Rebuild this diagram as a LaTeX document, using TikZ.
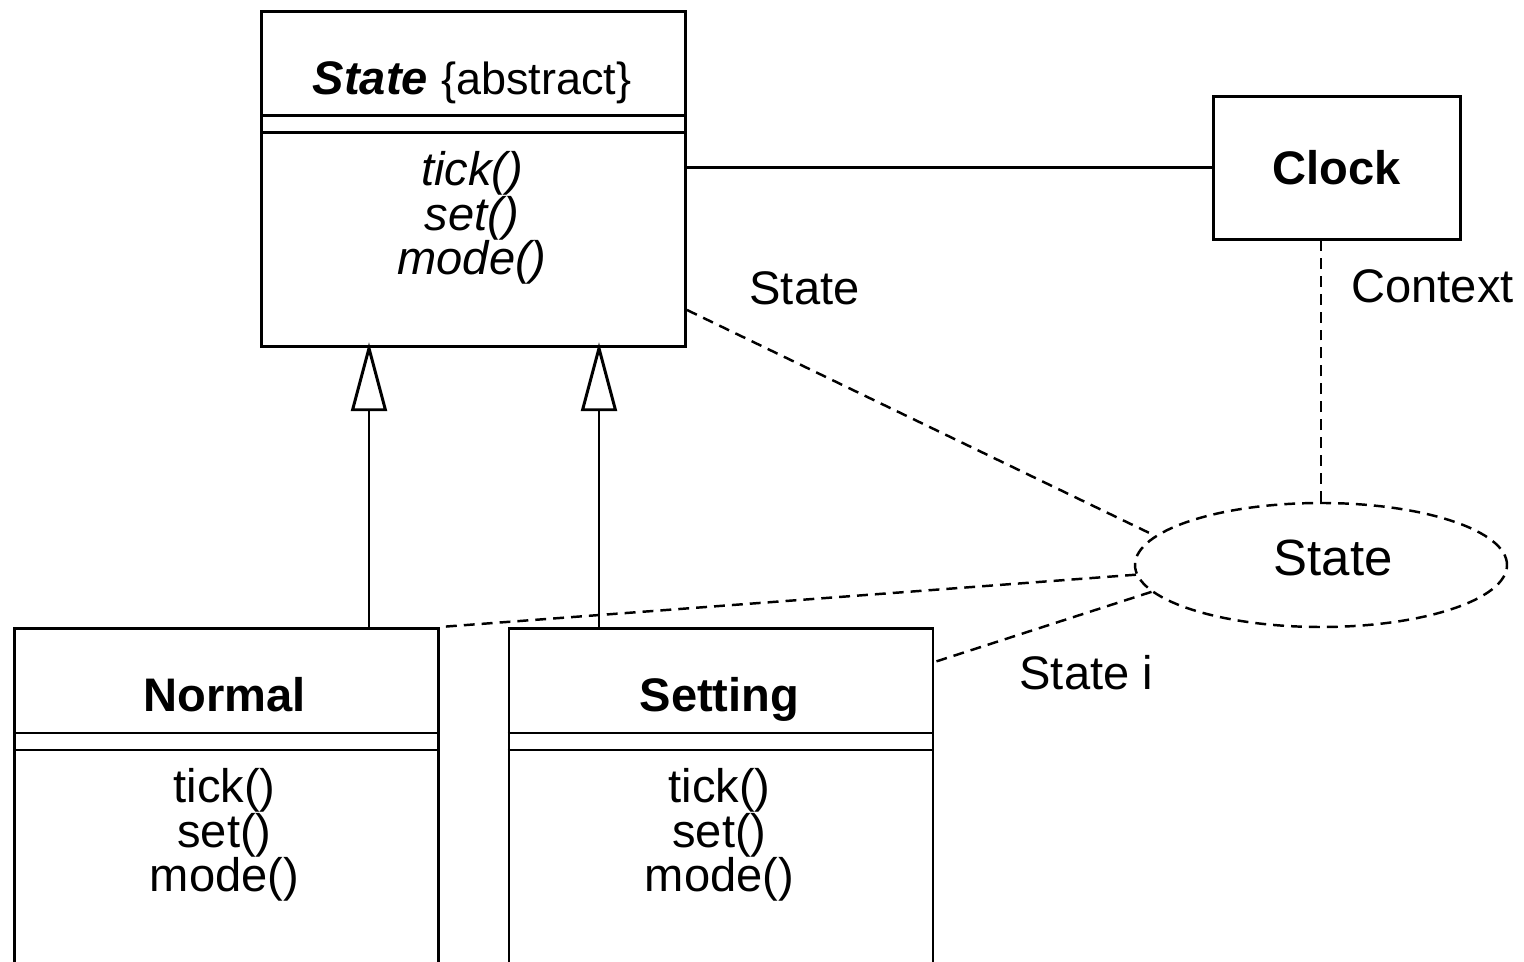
\documentclass[tikz,border=0pt]{standalone}
\usepackage{fontspec}
\setmainfont{Liberation Sans}
\usetikzlibrary{shapes.geometric,arrows.meta,positioning}
\newcommand\diagfont{\fontsize{13.4}{12.8}\selectfont}
\newcommand\bigdiagfont{\fontsize{14.5}{14}\selectfont}

\tikzset{
  classbox/.style={draw, rectangle, anchor=north west, inner sep=0pt, minimum width=4.24cm},
  txt/.style={anchor=base, inner sep=0pt},
  methods/.style={anchor=base, inner sep=0pt, align=center},
  lbl/.style={anchor=base west, inner sep=0pt},
  role/.style={draw, ellipse, inner sep=0pt, line width=0.7pt, dash pattern=on 3.1pt off 2pt},
  rolelink/.style={line width=0.7pt, dash pattern=on 3.1pt off 2pt},
  inherit/.style={-{Triangle[open, length=19.6pt, width=10.2pt]}, shorten >=-1.6pt}
}

\begin{document}
\begin{tikzpicture}[font=\diagfont, line width=0.85pt]
    \useasboundingbox (0,0) rectangle (15.24,-9.62);

    % abstract class
    \node[classbox, minimum height=3.35cm] (state) at (2.60,-0.10) {};
    \draw ([yshift=-1.06cm]state.north west) -- ([yshift=-1.06cm]state.north east);
    \draw ([yshift=-1.23cm]state.north west) -- ([yshift=-1.23cm]state.north east);
    \node[txt] (statename) at (4.72,-0.95) {{\bfseries\itshape State} {\fontsize{12.8}{12.8}\selectfont\{abstract\}}};
    \node[methods, font=\diagfont\itshape] (stateops) at (4.72,-2.75) {tick()\\set()\\mode()};

    % concrete states
    \node[classbox, minimum height=3.50cm] (normal) at (0.13,-6.27) {};
    \draw ([yshift=-1.06cm]normal.north west) -- ([yshift=-1.06cm]normal.north east);
    \draw ([yshift=-1.23cm]normal.north west) -- ([yshift=-1.23cm]normal.north east);
    \node[txt, font=\diagfont\bfseries] (normalname) at (2.245,-7.12) {Normal};
    \node[methods] (normalops) at (2.245,-8.92) {tick()\\set()\\mode()};

    \node[classbox, minimum height=3.50cm] (setting) at (5.075,-6.27) {};
    \draw ([yshift=-1.06cm]setting.north west) -- ([yshift=-1.06cm]setting.north east);
    \draw ([yshift=-1.23cm]setting.north west) -- ([yshift=-1.23cm]setting.north east);
    \node[txt, font=\diagfont\bfseries] (settingname) at (7.195,-7.12) {Setting};
    \node[methods] (settingops) at (7.195,-8.92) {tick()\\set()\\mode()};

    % context
    \node[draw, inner sep=0pt, minimum width=2.47cm, minimum height=1.43cm, font=\diagfont\bfseries] (clock) at (13.365,-1.68) {Clock};

    % pattern
    \node[role, minimum width=3.72cm, minimum height=1.24cm] (pattern) at (13.21,-5.65) {};
    \node[txt, font=\bigdiagfont] (patternname) at (13.33,-5.76) {State};

    \node[lbl] (lblstate) at (7.48,-3.05) {State};
    \node[lbl] (lblcontext) at (13.50,-3.03) {Context};
    \node[lbl] (lblstatei) at (10.18,-6.90) {State i};

    % Associations
    \draw (state.east |- clock.west) -- (clock.west);
    \coordinate (normalup) at ([xshift=1.425cm]normal.north);
    \draw[inherit] (normalup) -- (normalup |- state.south);
    \coordinate (settingup) at ([xshift=-1.22cm]setting.north);
    \draw[inherit] (settingup) -- (settingup |- state.south);

    % Roles
    \draw[rolelink] (pattern.north) -- (pattern.north |- clock.south);
    \draw[rolelink] ([yshift=-3.00cm]state.north east) -- (pattern.170);
    \draw[rolelink] (pattern.183) -- (normal.north east);
    \draw[rolelink] (pattern.189) -- ([yshift=-0.35cm]setting.north east);
\end{tikzpicture}
\end{document}
